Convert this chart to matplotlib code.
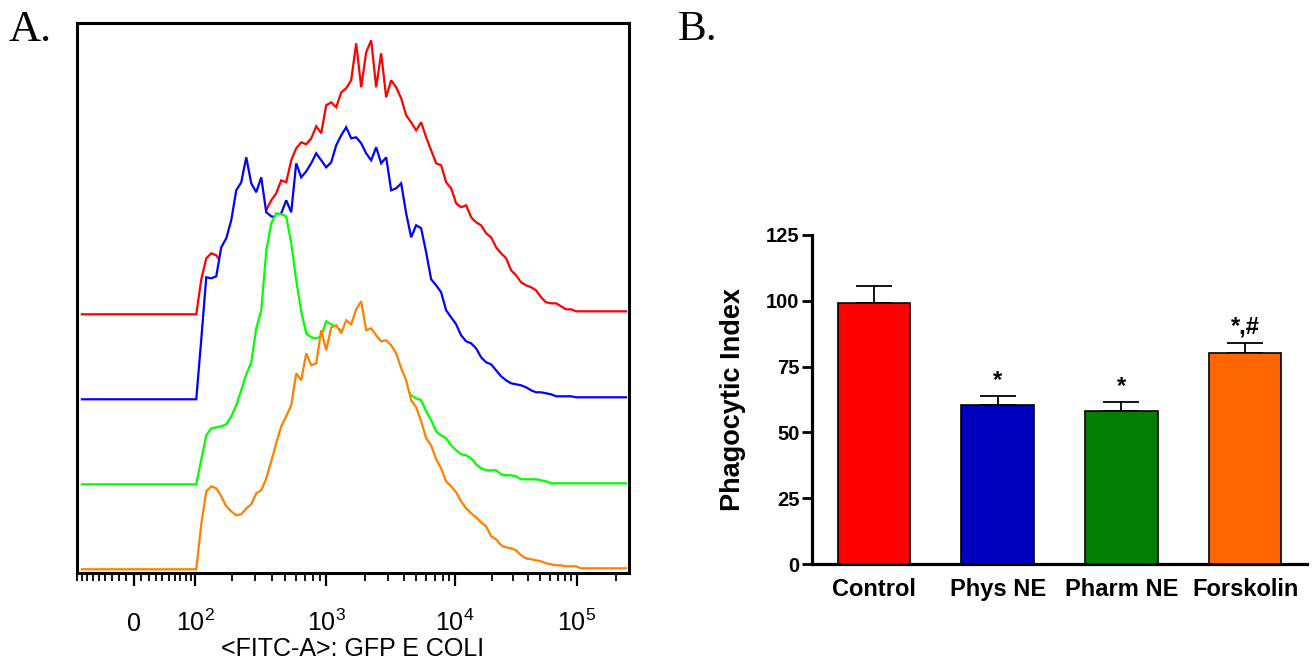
import numpy as np
import matplotlib
matplotlib.use("Agg")
import matplotlib.pyplot as plt
from matplotlib.ticker import FixedLocator, FixedFormatter

plt.rcParams["font.family"] = ["Liberation Sans", "DejaVu Sans"]
plt.rcParams["mathtext.fontset"] = "custom"
plt.rcParams["mathtext.rm"] = "Liberation Sans"
plt.rcParams["mathtext.it"] = "Liberation Sans:italic"
plt.rcParams["mathtext.bf"] = "Liberation Sans:bold"

# ---------------------------------------------------------------------------
# Panel A: GFP E. coli uptake histograms (events per display channel)
# ---------------------------------------------------------------------------
CHANNEL_FIRST = 0.4845      # display position (decades) of first channel
CHANNEL_STEP = 0.03876      # channel width in display decades
LOWEST_VALUE = -80.0        # start of the flat (empty) region of each trace

CONTROL_COUNTS = [
    0, 35, 56, 61, 59, 52, 56, 61, 67, 74,
    81, 87, 94, 99, 104, 114, 121, 134, 132, 154,
    166, 172, 170, 176, 188, 181, 209, 212, 207, 222,
    226, 234, 271, 227, 262, 274, 227, 261, 217, 234,
    227, 216, 199, 192, 184, 192, 177, 164, 151, 149,
    132, 126, 111, 107, 109, 97, 92, 89, 81, 77,
    67, 61, 56, 44, 39, 32, 29, 27, 24, 17,
    12, 11, 11, 8, 5, 5, 3, 3, 3, 3,
    3, 3, 3, 3, 3, 3, 3,
]
PHYS_NE_COUNTS = [
    0, 60, 122, 121, 123, 152, 161, 179, 209, 217,
    242, 216, 207, 222, 187, 183, 182, 186, 199, 187,
    236, 222, 228, 236, 246, 239, 232, 237, 254, 264,
    272, 261, 262, 256, 246, 239, 252, 236, 242, 209,
    211, 216, 186, 162, 174, 171, 147, 120, 114, 107,
    89, 82, 75, 64, 58, 56, 51, 42, 37, 35,
    29, 23, 19, 16, 15, 14, 12, 9, 7, 7,
    6, 5, 3, 3, 3, 3, 2, 2, 2, 2,
    2, 2, 2, 2, 2, 2, 2,
]
PHARM_NE_COUNTS = [
    0, 25, 49, 56, 57, 58, 60, 68, 79, 94,
    110, 122, 156, 174, 233, 261, 271, 270, 268, 241,
    204, 173, 151, 147, 146, 148, 163, 160, 157, 154,
    151, 148, 143, 138, 134, 131, 126, 121, 116, 111,
    106, 101, 97, 89, 86, 84, 73, 64, 53, 49,
    46, 39, 34, 30, 29, 26, 20, 16, 14, 14,
    14, 10, 9, 9, 8, 5, 5, 5, 5, 4,
    3, 1, 1, 1, 1, 1, 1, 1, 1, 1,
    1, 1, 1, 1, 1, 1, 1,
]
FORSKOLIN_COUNTS = [
    0, 45, 78, 83, 81, 73, 63, 58, 54, 55,
    61, 65, 76, 79, 91, 108, 126, 143, 153, 164,
    196, 189, 216, 204, 206, 239, 219, 242, 244, 236,
    249, 245, 260, 268, 239, 241, 234, 228, 229, 224,
    216, 201, 189, 169, 162, 148, 131, 124, 110, 101,
    88, 83, 77, 68, 61, 56, 52, 47, 43, 33,
    30, 24, 22, 21, 19, 14, 11, 10, 9, 8,
    6, 5, 4, 4, 3, 3, 3, 1, 1, 1,
    1, 1, 1, 1, 1, 1, 1,
]
HIST_SERIES = [CONTROL_COUNTS, PHYS_NE_COUNTS, PHARM_NE_COUNTS, FORSKOLIN_COUNTS]
HIST_COLORS = ["#FF0000", "#0000FF", "#00FF00", "#FF8000"]
OVERLAY_OFFSETS = [255, 170, 85, 0]

MAJOR_TICKS = [0, 1e2, 1e3, 1e4, 1e5]
MAJOR_LABELS = ["0", r"$\mathregular{10^{2}}$", r"$\mathregular{10^{3}}$",
                r"$\mathregular{10^{4}}$", r"$\mathregular{10^{5}}$"]
MINOR_TICKS = ([-m for m in range(10, 100, 10)] + list(range(10, 100, 10))
               + [m * 10 ** e for e in (2, 3, 4) for m in range(2, 10)] + [2e5])
X_LIMITS = (-90, 2.52e5)
X_LABEL = "<FITC-A>: GFP E COLI"

# Biexponential (logicle-style) display: arcsinh core, calibrated decades
LOGICLE_W = 38.0
DECADE_VALUES = np.array([0.0, 1e2, 1e3, 1e4, 1e5, 1e6])
DECADE_DISPLAY = np.array([0.0, 0.4767, 1.4922, 2.4922, 3.4357, 4.4357])


def _asinh_dec(v):
    return np.arcsinh(np.asarray(v, float) / (2 * LOGICLE_W)) / np.log(10)


_DECADE_ASINH = _asinh_dec(DECADE_VALUES)


def biex_forward(v):
    v = np.asarray(v, float)
    return np.sign(v) * np.interp(_asinh_dec(np.abs(v)), _DECADE_ASINH, DECADE_DISPLAY)


def biex_inverse(u):
    u = np.asarray(u, float)
    a = np.interp(np.abs(u), DECADE_DISPLAY, _DECADE_ASINH)
    return np.sign(u) * 2 * LOGICLE_W * np.sinh(a * np.log(10))


# ---------------------------------------------------------------------------
# Panel B: phagocytic index
# ---------------------------------------------------------------------------
GROUPS = ["Control", "Phys NE", "Pharm NE", "Forskolin"]
PHAGO_MEAN = [99.0, 60.5, 58.2, 80.2]
PHAGO_SEM = [6.6, 3.3, 3.4, 3.9]
SIG_LABELS = ["", "*", "*", "*,#"]
BAR_COLORS = ["#FF0000", "#0000C0", "#008000", "#FF6600"]
Y_TICKS = [0, 25, 50, 75, 100, 125]

# ---------------------------------------------------------------------------
W_PX, H_PX = 1315, 659
fig = plt.figure(figsize=(W_PX / 100, H_PX / 100), dpi=100)
fig.patch.set_facecolor("white")


def fig_rect(left, top, right, bottom):
    return [left / W_PX, 1 - bottom / H_PX, (right - left) / W_PX, (bottom - top) / H_PX]


# ---- Panel A --------------------------------------------------------------
axa = fig.add_axes(fig_rect(77, 23.3, 628.5, 573))
axa.set_xscale("function", functions=(biex_forward, biex_inverse))

n_channels = len(CONTROL_COUNTS)
channel_pos = CHANNEL_FIRST + CHANNEL_STEP * np.arange(n_channels)
channel_values = biex_inverse(channel_pos)
x_trace = np.concatenate([[LOWEST_VALUE], channel_values])

for z, (counts, color, base) in enumerate(zip(HIST_SERIES, HIST_COLORS, OVERLAY_OFFSETS)):
    y = base + np.concatenate([[0.0], np.asarray(counts, float)])
    axa.fill_between(x_trace, base, y, color="white", lw=0, zorder=1 + 2 * z)
    axa.plot(x_trace, y, color=color, lw=1.6, zorder=2 + 2 * z, solid_joinstyle="miter")

axa.set_xlim(*X_LIMITS)
axa.set_ylim(-3.7, 546)
axa.xaxis.set_major_locator(FixedLocator(MAJOR_TICKS))
axa.xaxis.set_major_formatter(FixedFormatter(MAJOR_LABELS))
axa.xaxis.set_minor_locator(FixedLocator(MINOR_TICKS))
axa.tick_params(axis="x", which="major", direction="out", length=9.5, width=1.6,
                labelsize=18, pad=32)
axa.tick_params(axis="x", which="minor", direction="out", length=5.5, width=1.3)
axa.tick_params(axis="y", which="both", left=False, labelleft=False)
for tick in axa.xaxis.get_major_ticks():
    tick.label1.set_verticalalignment("baseline")
for sp in axa.spines.values():
    sp.set_linewidth(2.2)
    sp.set_zorder(20)
axa.set_xlabel(X_LABEL, fontsize=18)
axa.xaxis.set_label_coords(0.5, -0.117)

# ---- Panel B --------------------------------------------------------------
axb = fig.add_axes(fig_rect(812, 235, 1307, 564))
pos = np.arange(len(GROUPS))
axb.bar(pos, PHAGO_MEAN, width=0.585, color=BAR_COLORS, edgecolor="black",
        linewidth=1.2, zorder=3)
axb.errorbar(pos, PHAGO_MEAN, yerr=[np.zeros(len(PHAGO_SEM)), PHAGO_SEM], fmt="none",
             ecolor="black", elinewidth=1.3, capsize=13, capthick=1.3, zorder=2)
for i, (m, s, lab) in enumerate(zip(PHAGO_MEAN, PHAGO_SEM, SIG_LABELS)):
    if lab:
        axb.annotate(lab, xy=(i, m + s), xytext=(0, 3), textcoords="offset points",
                     ha="center", va="bottom", fontsize=17, fontweight="bold")

axb.set_xlim(-0.5, 3.5)
axb.set_ylim(0, 125)
axb.set_yticks(Y_TICKS)
axb.set_xticks(pos)
axb.set_xticklabels(GROUPS, fontsize=17, fontweight="bold")
axb.set_yticklabels([str(t) for t in Y_TICKS], fontsize=14.5, fontweight="bold")
axb.tick_params(axis="x", length=0, pad=10)
axb.tick_params(axis="y", direction="out", length=7, width=2, pad=2)
for side in ("top", "right"):
    axb.spines[side].set_visible(False)
for side in ("left", "bottom"):
    axb.spines[side].set_linewidth(2.3)
axb.set_ylabel("Phagocytic Index", fontsize=19.5, fontweight="bold")
axb.yaxis.set_label_coords(-0.133, 0.5)

# ---- Panel letters --------------------------------------------------------
fig.text(9 / W_PX, 1 - 41 / H_PX, "A.", fontsize=32, family="Liberation Serif",
         ha="left", va="baseline")
fig.text(678 / W_PX, 1 - 40 / H_PX, "B.", fontsize=31, family="Liberation Serif",
         ha="left", va="baseline")

fig.savefig("out.png", dpi=100, facecolor="white")
